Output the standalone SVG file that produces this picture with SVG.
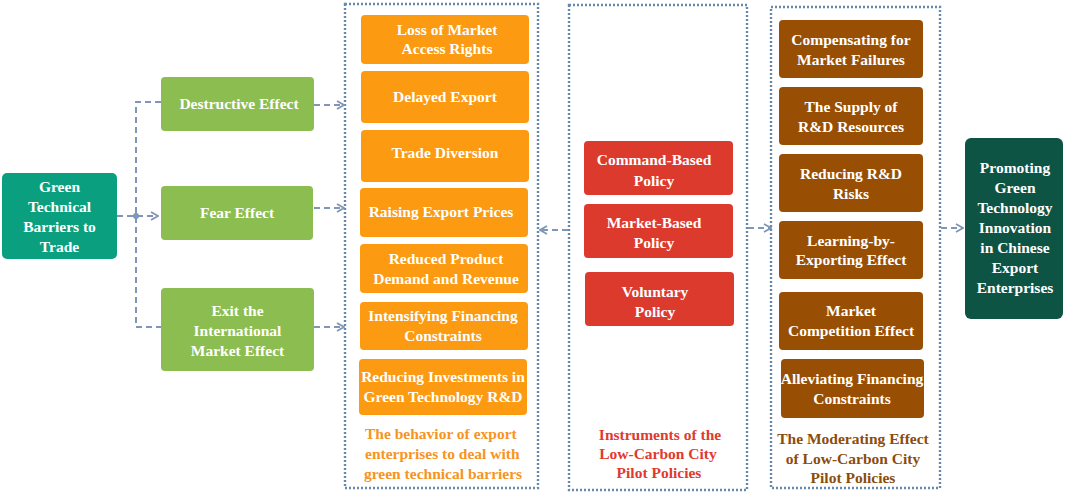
<svg xmlns="http://www.w3.org/2000/svg" width="1065" height="492" viewBox="0 0 1065 492">
<defs>
<marker id="arr" viewBox="0 0 10 10" refX="9" refY="5" markerWidth="10" markerHeight="10" markerUnits="userSpaceOnUse" orient="auto">
<polyline points="2,1 9,5 2,9" fill="none" stroke="#7f96b6" stroke-width="1.8"/>
</marker>
<style>
.t{font-family:"Liberation Serif","Times New Roman",serif;font-weight:bold;font-size:15.5px;fill:#fff;text-anchor:middle}
.cap{font-family:"Liberation Serif","Times New Roman",serif;font-weight:bold;font-size:15.5px}
.cont{fill:none;stroke:#6788ad;stroke-width:2.4;stroke-dasharray:2 2}
.con{fill:none;stroke:#7f96b6;stroke-width:2;stroke-dasharray:6 4}
.g{fill:#8cbd50}
.o{fill:#fc9a11}
.r{fill:#dd3a2e}
.b{fill:#984f04}
</style>
</defs>
<rect width="1065" height="492" fill="#fff"/>

<g id="containers">
<rect class="cont" x="345" y="4" width="193" height="484"/>
<rect class="cont" x="569" y="5" width="178" height="485"/>
<rect class="cont" x="771" y="7" width="169" height="481"/>
</g>

<g id="connectors">
<path class="con" d="M117,216 H158" marker-end="url(#arr)"/>
<path class="con" d="M161,102 H136 V327 H161"/>
<circle cx="136" cy="216" r="3" fill="#7f96b6"/>
<path class="con" d="M314,105 H344" marker-end="url(#arr)"/>
<path class="con" d="M314,208 H344" marker-end="url(#arr)"/>
<path class="con" d="M314,327 H344" marker-end="url(#arr)"/>
<path class="con" d="M568,230 H540" marker-end="url(#arr)"/>
<path class="con" d="M748,228 H771" marker-end="url(#arr)"/>
<path class="con" d="M941,228 H963" marker-end="url(#arr)"/>
</g>

<g id="gtb">
<rect x="2" y="173" width="115" height="86" rx="5" fill="#0aa07f"/>
<text class="t" x="59.5" y="192">Green</text>
<text class="t" x="59.5" y="212">Technical</text>
<text class="t" x="59.5" y="232">Barriers to</text>
<text class="t" x="59.5" y="252">Trade</text>
</g>

<g id="destructive"><rect class="g" x="161" y="77" width="153" height="54" rx="4"/><text class="t" x="239" y="109">Destructive Effect</text></g>
<g id="fear"><rect class="g" x="161" y="186" width="152" height="54" rx="4"/><text class="t" x="237" y="218">Fear Effect</text></g>
<g id="exit"><rect class="g" x="161" y="288" width="153" height="83" rx="4"/>
<text class="t" x="237.5" y="316">Exit the</text><text class="t" x="237.5" y="336">International</text><text class="t" x="237.5" y="356">Market Effect</text></g>

<g id="loss"><rect class="o" x="361" y="15" width="168" height="49" rx="4"/><text class="t" x="447" y="35">Loss of Market</text><text class="t" x="447" y="54">Access Rights</text></g>
<g id="delayed"><rect class="o" x="361" y="71" width="168" height="52" rx="4"/><text class="t" x="445" y="102">Delayed Export</text></g>
<g id="diversion"><rect class="o" x="361" y="130" width="168" height="52" rx="4"/><text class="t" x="445" y="158">Trade Diversion</text></g>
<g id="raising"><rect class="o" x="360" y="188" width="168" height="49" rx="4"/><text class="t" x="441" y="217">Raising Export Prices</text></g>
<g id="reduced"><rect class="o" x="360" y="244" width="168" height="49" rx="4"/><text class="t" x="446" y="264">Reduced Product</text><text class="t" x="446" y="284">Demand and Revenue</text></g>
<g id="intensifying"><rect class="o" x="360" y="302" width="168" height="48" rx="4"/><text class="t" x="443" y="321">Intensifying Financing</text><text class="t" x="443" y="341">Constraints</text></g>
<g id="reducinginv"><rect class="o" x="359" y="359" width="168" height="56" rx="4"/><text class="t" x="443" y="382">Reducing Investments in</text><text class="t" x="443" y="402">Green Technology R&amp;D</text></g>
<g id="cap1" class="cap" fill="#f7941d">
<text x="365" y="439">The behavior of export</text>
<text x="365" y="459">enterprises to deal with</text>
<text x="364" y="479">green technical barriers</text>
</g>

<g id="command"><rect class="r" x="584" y="141" width="149" height="54" rx="4"/><text class="t" x="654" y="165">Command-Based</text><text class="t" x="654" y="186">Policy</text></g>
<g id="market"><rect class="r" x="584" y="204" width="149" height="54" rx="4"/><text class="t" x="654" y="228">Market-Based</text><text class="t" x="654" y="248">Policy</text></g>
<g id="voluntary"><rect class="r" x="585" y="272" width="149" height="54" rx="4"/><text class="t" x="655" y="297">Voluntary</text><text class="t" x="655" y="317">Policy</text></g>
<g id="cap2" class="cap" fill="#e03a2e" text-anchor="middle">
<text x="660" y="440">Instruments of the</text>
<text x="658" y="459">Low-Carbon City</text>
<text x="659" y="478">Pilot Policies</text>
</g>

<g id="compensating"><rect class="b" x="779" y="20" width="144" height="58" rx="4"/><text class="t" x="851" y="45">Compensating for</text><text class="t" x="851" y="65">Market Failures</text></g>
<g id="supply"><rect class="b" x="779" y="87" width="144" height="58" rx="4"/><text class="t" x="851" y="112">The Supply of</text><text class="t" x="851" y="132">R&amp;D Resources</text></g>
<g id="risks"><rect class="b" x="779" y="154" width="144" height="58" rx="4"/><text class="t" x="851" y="179">Reducing R&amp;D</text><text class="t" x="851" y="199">Risks</text></g>
<g id="learning"><rect class="b" x="779" y="221" width="144" height="58" rx="4"/><text class="t" x="851" y="246">Learning-by-</text><text class="t" x="851" y="265">Exporting Effect</text></g>
<g id="competition"><rect class="b" x="779" y="292" width="144" height="58" rx="4"/><text class="t" x="851" y="316">Market</text><text class="t" x="851" y="336">Competition Effect</text></g>
<g id="alleviating"><rect class="b" x="781" y="359" width="143" height="59" rx="4"/><text class="t" x="852" y="384">Alleviating Financing</text><text class="t" x="852" y="404">Constraints</text></g>
<g id="cap3" class="cap" fill="#8b4d0c" text-anchor="middle">
<text x="853" y="444">The Moderating Effect</text>
<text x="853" y="464">of Low-Carbon City</text>
<text x="853" y="483">Pilot Policies</text>
</g>

<g id="promoting"><rect x="965" y="138" width="98" height="181" rx="6" fill="#0d5444"/>
<text class="t" x="1015" y="173">Promoting</text>
<text class="t" x="1015" y="193">Green</text>
<text class="t" x="1015" y="213">Technology</text>
<text class="t" x="1015" y="233">Innovation</text>
<text class="t" x="1015" y="253">in Chinese</text>
<text class="t" x="1015" y="273">Export</text>
<text class="t" x="1015" y="293">Enterprises</text>
</g>
</svg>
